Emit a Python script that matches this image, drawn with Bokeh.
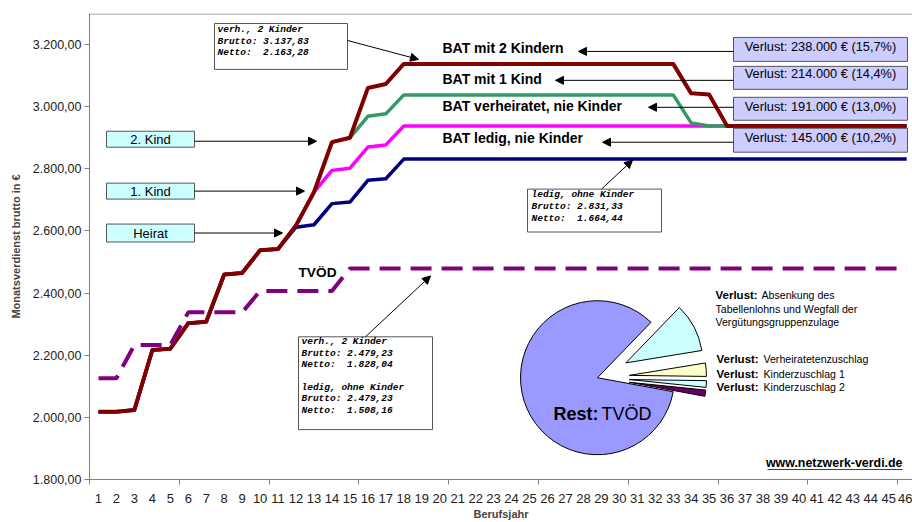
import math
from bokeh.plotting import figure
from bokeh.models import (Label, Arrow, NormalHead, FixedTicker, Range1d,
                          BoxAnnotation, Span, ColumnDataSource)
from bokeh.embed import file_html
from bokeh.resources import INLINE

# ---------------- data ----------------
years = list(range(1, 47))

bat_2_kinder = [2018, 2018, 2024, 2217, 2221, 2303, 2308, 2460, 2465, 2538,
                2542, 2618, 2725, 2886, 2900, 3060, 3073, 3137.83, 3137.83, 3137.83,
                3137.83, 3137.83, 3137.83, 3137.83, 3137.83, 3137.83, 3137.83, 3137.83, 3137.83, 3137.83,
                3137.83, 3137.83, 3137.83, 3043, 3039, 2938, 2938, 2938, 2938, 2938,
                2938, 2938, 2938, 2938, 2938, 2938]

bat_verheiratet = [2018, 2018, 2024, 2217, 2221, 2303, 2308, 2460, 2465, 2538,
                   2542, 2618, 2725, 2886, 2900, 2969, 2977, 3038, 3038, 3038,
                   3038, 3038, 3038, 3038, 3038, 3038, 3038, 3038, 3038, 3038,
                   3038, 3038, 3038, 2948, 2938, 2938, 2938, 2938, 2938, 2938,
                   2938, 2938, 2938, 2938, 2938, 2938]

bat_ledig = [2018, 2018, 2024, 2217, 2221, 2303, 2308, 2460, 2465, 2538,
             2542, 2618, 2725, 2795, 2802, 2870, 2877, 2938, 2938, 2938,
             2938, 2938, 2938, 2938, 2938, 2938, 2938, 2938, 2938, 2938,
             2938, 2938, 2938, 2938, 2938, 2938, 2938, 2938, 2938, 2938,
             2938, 2938, 2938, 2938, 2938, 2938]

ledig_ohne_kinder = [2018, 2018, 2024, 2217, 2221, 2303, 2308, 2460, 2465, 2538,
                     2542, 2612, 2620, 2688, 2693, 2763, 2768, 2831.33, 2831.33, 2831.33,
                     2831.33, 2831.33, 2831.33, 2831.33, 2831.33, 2831.33, 2831.33, 2831.33, 2831.33, 2831.33,
                     2831.33, 2831.33, 2831.33, 2831.33, 2831.33, 2831.33, 2831.33, 2831.33, 2831.33, 2831.33,
                     2831.33, 2831.33, 2831.33, 2831.33, 2831.33, 2831.33]

tvoed = [2126, 2126, 2233, 2233, 2233, 2338, 2338, 2338, 2338, 2407,
         2407, 2407, 2407, 2407, 2479.23, 2479.23, 2479.23, 2479.23, 2479.23, 2479.23,
         2479.23, 2479.23, 2479.23, 2479.23, 2479.23, 2479.23, 2479.23, 2479.23, 2479.23, 2479.23,
         2479.23, 2479.23, 2479.23, 2479.23, 2479.23, 2479.23, 2479.23, 2479.23, 2479.23, 2479.23,
         2479.23, 2479.23, 2479.23, 2479.23, 2479.23, 2479.23]

y_ticks = [1800, 2000, 2200, 2400, 2600, 2800, 3000, 3200]
y_tick_labels = ["1.800,00", "2.000,00", "2.200,00", "2.400,00",
                 "2.600,00", "2.800,00", "3.000,00", "3.200,00"]

pie_labels = ["Rest: TVÖD", "Kinderzuschlag 2", "Kinderzuschlag 1",
              "Verheiratetenzuschlag", "Absenkung"]
pie_values = [84.3, 1.3, 1.4, 2.8, 10.2]
pie_colors = ["#9999FF", "#660066", "#CCFFFF", "#FFFFCC", "#CCFFFF"]
pie_explode = [0, 32, 32, 32, 32]

# ---------------- figure ----------------
SANS = "Liberation Sans"
MONO = "Liberation Mono"

# frame on page: left 89, right 912, top 13, bottom 480
XS = 17.96                 # px per year
YU = 1500 / 467.0          # euro per px
X_END = 0.5 + 823 / XS

p = figure(width=912, height=522, x_range=Range1d(0.5, X_END),
           y_range=Range1d(1800, 3300), output_backend="svg",
           toolbar_location=None, min_border_left=89, min_border_right=0,
           min_border_top=13, min_border_bottom=42)
p.xgrid.visible = False
p.ygrid.visible = False
p.outline_line_color = None
p.background_fill_color = "white"
p.border_fill_color = "white"


def X(px):
    return 0.5 + (px - 89) / XS


def Y(py):
    return 1800 + (480 - py) * YU


# axes
p.xaxis.ticker = FixedTicker(ticks=years,
                             minor_ticks=[0.5, 5.5, 10.5, 15.5, 20.5, 25.5, 30.5, 35.5, 40.5, 45.5])
p.xaxis.major_tick_out = 0
p.xaxis.major_tick_in = 0
p.xaxis.minor_tick_out = 5
p.xaxis.minor_tick_in = 0
p.xaxis.minor_tick_line_color = "#808080"
p.xaxis.axis_line_color = "#808080"
p.xaxis.major_label_standoff = 9
p.xaxis.major_label_text_font = SANS
p.xaxis.major_label_text_font_size = "13px"
p.xaxis.major_label_text_color = "#222222"
p.xaxis.axis_label = "Berufsjahr"
p.xaxis.axis_label_text_font = SANS
p.xaxis.axis_label_text_font_size = "11px"
p.xaxis.axis_label_text_font_style = "bold"
p.xaxis.axis_label_standoff = 2

p.yaxis.ticker = FixedTicker(ticks=y_ticks, minor_ticks=[])
p.yaxis.major_label_overrides = dict(zip(y_ticks, y_tick_labels))
p.yaxis.major_tick_out = 5
p.yaxis.major_tick_in = 0
p.yaxis.minor_tick_out = 0
p.yaxis.major_tick_line_color = "#808080"
p.yaxis.axis_line_color = "#808080"
p.yaxis.major_label_standoff = 3
p.yaxis.major_label_text_font = SANS
p.yaxis.major_label_text_font_size = "12.5px"
p.yaxis.major_label_text_color = "#222222"
p.yaxis.axis_label = "Monatsverdienst brutto in €"
p.yaxis.axis_label_text_font = SANS
p.yaxis.axis_label_text_font_size = "11px"
p.yaxis.axis_label_text_font_style = "bold"
p.yaxis.axis_label_standoff = 8

p.add_layout(Span(location=Y(13.5), dimension="width", line_color="#808080", line_width=1))

# ---------------- lines ----------------
src = ColumnDataSource(dict(year=years, b2=bat_2_kinder, bv=bat_verheiratet,
                            bl=bat_ledig, lo=ledig_ohne_kinder, tv=tvoed))
p.line("year", "lo", source=src, line_color="#000080", line_width=3.5, line_join="round")
p.line("year", "bl", source=src, line_color="#FF00FF", line_width=3.5, line_join="round")
p.line("year", "bv", source=src, line_color="#339966", line_width=3.5, line_join="round")
p.line("year", "b2", source=src, line_color="#800000", line_width=4, line_join="round")
p.line("year", "tv", source=src, line_color="#800080", line_width=4, line_dash="21 10")

# ---------------- pie ----------------
cx, cy, R = 597, 378, 77
start = 46.0
angles = []
a = start
for v in pie_values:
    span = v / 100.0 * 360.0
    angles.append((a, a + span))
    a += span
px_, py_, sa, ea = [], [], [], []
for (a0, a1), ex in zip(angles, pie_explode):
    b = math.radians((a0 + a1) / 2)
    px_.append(X(cx) + ex * math.cos(b) / XS)
    py_.append(Y(cy) + ex * math.sin(b) * YU)
    sa.append(math.radians(a0))
    ea.append(math.radians(a1))
pie_src = ColumnDataSource(dict(x=px_, y=py_, sa=sa, ea=ea, color=pie_colors, label=pie_labels))
p.wedge(x="x", y="y", radius=R, radius_units="screen", start_angle="sa", end_angle="ea",
        fill_color="color", line_color="black", line_width=1, source=pie_src)


# ---------------- annotations ----------------
def lab(txt, px, py, size="12px", style="normal", align="left", font=SANS, color="#000000"):
    p.add_layout(Label(x=X(px), y=Y(py), text=txt, text_font=font, text_font_size=size,
                       text_font_style=style, text_align=align, text_baseline="middle",
                       text_color=color))


def box(x0, y0, x1, y1, fill):
    p.add_layout(BoxAnnotation(left=X(x0), right=X(x1), top=Y(y0), bottom=Y(y1),
                               fill_color=fill, fill_alpha=1.0, line_color="#555555",
                               line_width=1, line_alpha=1.0))


def arrow(x0, y0, x1, y1):
    p.add_layout(Arrow(end=NormalHead(size=8, fill_color="black", line_color="black", line_width=1),
                       x_start=X(x0), y_start=Y(y0), x_end=X(x1), y_end=Y(y1),
                       line_color="black", line_width=1))


# top-left info box
box(214, 23, 347, 69, "white")
for t, yy in zip(["verh., 2 Kinder", "Brutto: 3.137,83", "Netto:\u00a0 2.163,28"], [29, 41, 52]):
    lab(t, 217, yy, size="9.5px", style="bold italic", font=MONO)
arrow(347, 40, 418, 59)

# BAT labels
lab("BAT mit 2 Kindern", 442, 48, size="14px", style="bold")
lab("BAT mit 1 Kind", 442, 79, size="14px", style="bold")
lab("BAT verheiratet, nie Kinder", 442, 106, size="14px", style="bold")
lab("BAT ledig, nie Kinder", 442, 138, size="14px", style="bold")

# Verlust boxes
verlust = [("Verlust: 238.000 € (15,7%)", 37, 61, 46, 51, 578),
           ("Verlust: 214.000 € (14,4%)", 66, 89, 73, 80, 555),
           ("Verlust: 191.000 € (13,0%)", 97, 120, 106, 107, 648),
           ("Verlust: 145.000 € (10,2%)", 128, 152, 137, 142, 602)]
for t, y0, y1, ty, ay, hx in verlust:
    box(733, y0, 907, y1, "#CCCCFF")
    lab(t, 820, ty, size="12.8px", align="center")
    arrow(733, ay, hx, ay)

# left event boxes
events = [("2. Kind", 131, 147, 139, 141, 316),
          ("1. Kind", 183, 199, 191, 191, 304),
          ("Heirat", 224, 242, 233, 233, 282)]
for t, y0, y1, ty, ay, hx in events:
    box(106, y0, 194, y1, "#CCFFFF")
    lab(t, 150, ty, size="13px", align="center")
    arrow(194, ay, hx, ay)

# TVÖD label
lab("TVÖD", 298, 273, size="13.7px", style="bold")

# TVÖD info box
box(298, 337, 432, 430, "white")
tv_lines = ["verh., 2 Kinder", "Brutto: 2.479,23", "Netto:\u00a0 1.828,04",
            "ledig, ohne Kinder", "Brutto: 2.479,23", "Netto:\u00a0 1.508,16"]
for t, yy in zip(tv_lines, [342, 353.7, 365, 387.7, 399, 410.7]):
    lab(t, 301, yy, size="9.5px", style="bold italic", font=MONO)
arrow(365, 337, 430, 276)

# ledig info box
box(527, 189, 661, 232, "white")
for t, yy in zip(["ledig, ohne Kinder", "Brutto: 2.831,33", "Netto:\u00a0 1.664,44"], [194, 206, 218]):
    lab(t, 531, yy, size="9.5px", style="bold italic", font=MONO)
arrow(601, 189, 632, 160)

# pie labels
lab("Verlust:", 715, 295, size="11.5px", style="bold")
lab("Absenkung des", 761, 295, size="10.6px")
lab("Tabellenlohns und Wegfall der", 715, 309, size="10.6px")
lab("Vergütungsgruppenzulage", 715, 322, size="10.6px")
lab("Verlust:", 716, 359, size="11.5px", style="bold")
lab("Verheiratetenzuschlag", 763, 359, size="10.6px")
lab("Verlust:", 716, 374, size="11.5px", style="bold")
lab("Kinderzuschlag 1", 763, 374, size="10.6px")
lab("Verlust:", 716, 387, size="11.5px", style="bold")
lab("Kinderzuschlag 2", 763, 387, size="10.6px")

lab("Rest:", 553, 414, size="18px", style="bold")
lab("TVÖD", 601, 414, size="18px")

# source
lab("www.netzwerk-verdi.de", 902, 463, size="12.4px", style="bold", align="right")
p.line(x=[X(767), X(902)], y=[Y(470), Y(470)], line_color="#333399", line_width=1)

open("out.html", "w").write(file_html(p, INLINE))
